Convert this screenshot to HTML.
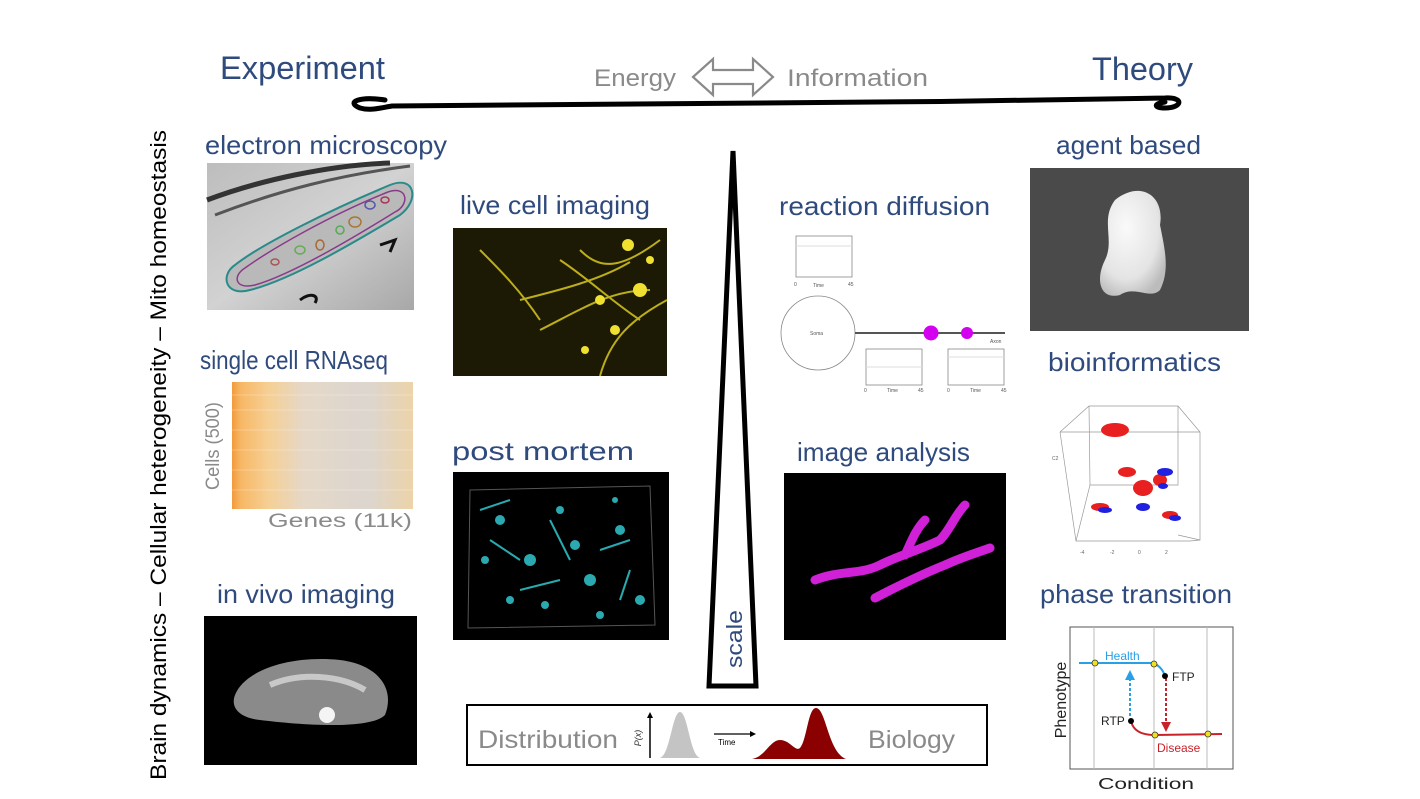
<!DOCTYPE html>
<html><head><meta charset="utf-8"><style>
html,body{margin:0;padding:0;background:#fff;}
body{width:1420px;height:799px;overflow:hidden;position:relative;font-family:"Liberation Sans","DejaVu Sans",sans-serif;}
</style></head><body>
<svg width="1420" height="799" style="position:absolute;left:0;top:0" xmlns="http://www.w3.org/2000/svg" font-family="Liberation Sans, DejaVu Sans, sans-serif">
<defs>
<radialGradient id="blob" cx="40%" cy="35%" r="70%"><stop offset="0" stop-color="#fafafa"/><stop offset="0.7" stop-color="#e4e4e4"/><stop offset="1" stop-color="#bcbcbc"/></radialGradient>
<linearGradient id="heat" x1="0" x2="1" y1="0" y2="0"><stop offset="0" stop-color="#f39a3c"/><stop offset="0.05" stop-color="#f7b866"/><stop offset="0.2" stop-color="#f6cf94"/><stop offset="0.4" stop-color="#e5d8c8"/><stop offset="0.75" stop-color="#dcd6cf"/><stop offset="1" stop-color="#ecd3a9"/></linearGradient>
<linearGradient id="em" x1="0" x2="1" y1="0" y2="1"><stop offset="0" stop-color="#bdbdbd"/><stop offset="0.5" stop-color="#d2d2d2"/><stop offset="1" stop-color="#a8a8a8"/></linearGradient>
</defs>
<!-- swoosh -->
<path d="M385,100 C360,96 345,102 360,108 C370,111 380,108 392,106 C600,105 900,103 1165,98 C1185,97 1182,108 1165,108 C1155,108 1152,104 1165,102" fill="none" stroke="#000" stroke-width="5" stroke-linecap="round"/>
<!-- double arrow -->
<path d="M693,77 L713,59 L713,70 L753,70 L753,59 L773,77 L753,95 L753,84 L713,84 L713,95 Z" fill="none" stroke="#8a8a8a" stroke-width="2.2"/>
<g fill="#8a8a8a" font-size="24" lengthAdjust="spacingAndGlyphs">
<text x="594" y="86" textLength="82" lengthAdjust="spacingAndGlyphs">Energy</text>
<text x="787" y="86" textLength="141" lengthAdjust="spacingAndGlyphs">Information</text>
</g>
<!-- vertical label -->
<text transform="translate(166,455) rotate(-90)" text-anchor="middle" font-size="22" fill="#000" textLength="650" lengthAdjust="spacingAndGlyphs">Brain dynamics – Cellular heterogeneity – Mito homeostasis</text>
<!-- titles -->
<g fill="#2f4a7c" font-size="26">
<text x="220" y="79" font-size="32" textLength="165" lengthAdjust="spacingAndGlyphs">Experiment</text>
<text x="1092" y="80" font-size="32" textLength="101" lengthAdjust="spacingAndGlyphs">Theory</text>
<text x="205" y="154" textLength="242" lengthAdjust="spacingAndGlyphs">electron microscopy</text>
<text x="200" y="369" textLength="188" lengthAdjust="spacingAndGlyphs">single cell RNAseq</text>
<text x="217" y="603" textLength="178" lengthAdjust="spacingAndGlyphs">in vivo imaging</text>
<text x="460" y="214" textLength="190" lengthAdjust="spacingAndGlyphs">live cell imaging</text>
<text x="452" y="460" textLength="182" lengthAdjust="spacingAndGlyphs">post mortem</text>
<text x="779" y="215" textLength="211" lengthAdjust="spacingAndGlyphs">reaction diffusion</text>
<text x="797" y="461" textLength="173" lengthAdjust="spacingAndGlyphs">image analysis</text>
<text x="1056" y="154" textLength="145" lengthAdjust="spacingAndGlyphs">agent based</text>
<text x="1048" y="371" textLength="173" lengthAdjust="spacingAndGlyphs">bioinformatics</text>
<text x="1040" y="603" textLength="192" lengthAdjust="spacingAndGlyphs">phase transition</text>
</g>
<!-- EM image -->
<rect x="207" y="163" width="207" height="147" fill="url(#em)"/>
<path d="M207,200 C260,180 330,165 390,163" stroke="#333" stroke-width="5" fill="none"/>
<path d="M215,215 C280,190 340,175 410,166" stroke="#555" stroke-width="3" fill="none"/>
<path d="M235,265 C260,245 330,210 390,185 C415,175 420,200 400,215 C350,245 290,280 250,290 C225,297 220,275 235,265Z" fill="#b9b9b9" stroke="#2a8a8a" stroke-width="2"/>
<path d="M245,268 C270,250 330,215 388,192 C408,185 410,205 395,212 C350,240 290,275 255,285 C235,290 232,276 245,268Z" fill="none" stroke="#8a3a8a" stroke-width="1.5"/>
<g fill="none" stroke-width="1.5"><ellipse cx="300" cy="250" rx="5" ry="4" stroke="#6a5"/><ellipse cx="320" cy="245" rx="4" ry="5" stroke="#a63"/><ellipse cx="355" cy="222" rx="6" ry="5" stroke="#a73"/><ellipse cx="370" cy="205" rx="5" ry="4" stroke="#55a"/><ellipse cx="275" cy="262" rx="4" ry="3" stroke="#a55"/><ellipse cx="340" cy="230" rx="4" ry="4" stroke="#5a5"/><ellipse cx="385" cy="200" rx="4" ry="3" stroke="#a35"/></g>
<path d="M380,245 l15,-5 l-5,12 M300,300 c10,-8 20,-5 15,3" stroke="#111" stroke-width="3" fill="none"/>
<!-- heatmap -->
<rect x="232" y="382" width="181" height="127" fill="url(#heat)"/>
<g stroke="#fff" stroke-opacity="0.25" stroke-width="1"><line x1="232" y1="395" x2="413" y2="395"/><line x1="232" y1="410" x2="413" y2="410"/><line x1="232" y1="430" x2="413" y2="430"/><line x1="232" y1="450" x2="413" y2="450"/><line x1="232" y1="470" x2="413" y2="470"/><line x1="232" y1="490" x2="413" y2="490"/></g>
<text transform="translate(219,446) rotate(-90)" text-anchor="middle" font-size="19" fill="#8a8a8a" textLength="88" lengthAdjust="spacingAndGlyphs">Cells (500)</text>
<text x="268" y="527" font-size="19" fill="#8a8a8a" textLength="144" lengthAdjust="spacingAndGlyphs">Genes (11k)</text>
<!-- in vivo -->
<rect x="204" y="616" width="213" height="149" fill="#000"/>
<path d="M235,695 C245,670 290,655 340,660 C380,665 395,690 385,715 C370,730 300,725 260,720 C240,718 230,708 235,695Z" fill="#8a8a8a"/>
<path d="M270,685 C300,672 340,675 365,690" stroke="#c8c8c8" stroke-width="6" fill="none"/>
<circle cx="327" cy="715" r="8" fill="#f4f4f4"/>
<!-- live cell -->
<rect x="453" y="228" width="214" height="148" fill="#1c1a04"/>
<g stroke="#d8c820" fill="none" stroke-width="2" opacity="0.85">
<path d="M560,260 C590,280 610,300 640,320"/><path d="M580,250 C600,270 620,270 660,240"/><path d="M540,330 C580,310 610,290 650,290"/><path d="M600,376 C610,340 630,320 667,300"/><path d="M520,300 C560,290 600,280 630,262"/><path d="M480,250 C500,270 520,290 540,320"/></g>
<g fill="#f0e030"><circle cx="628" cy="245" r="6"/><circle cx="600" cy="300" r="5"/><circle cx="640" cy="290" r="7"/><circle cx="615" cy="330" r="5"/><circle cx="585" cy="350" r="4"/><circle cx="650" cy="260" r="4"/></g>
<!-- post mortem -->
<rect x="453" y="472" width="216" height="168" fill="#000"/>
<path d="M470,490 L650,486 L655,625 L468,628 Z" fill="none" stroke="#555" stroke-width="1"/>
<g fill="#2aaab0"><circle cx="500" cy="520" r="5"/><circle cx="530" cy="560" r="6"/><circle cx="560" cy="510" r="4"/><circle cx="590" cy="580" r="6"/><circle cx="620" cy="530" r="5"/><circle cx="510" cy="600" r="4"/><circle cx="640" cy="600" r="5"/><circle cx="575" cy="545" r="5"/><circle cx="545" cy="605" r="4"/><circle cx="485" cy="560" r="4"/><circle cx="615" cy="500" r="3"/><circle cx="600" cy="615" r="4"/></g>
<g stroke="#2aaab0" stroke-width="2" fill="none"><path d="M490,540 l30,20 M550,520 l20,40 M600,550 l30,-10 M520,590 l40,-10 M630,570 l-10,30 M480,510 l30,-10"/></g>
<!-- scale triangle -->
<path d="M733,151 L756,686 L709,686 Z" fill="#fff" stroke="#000" stroke-width="5" stroke-linejoin="miter"/>
<text transform="translate(742,639) rotate(-90)" text-anchor="middle" font-size="22" fill="#2f4a7c" textLength="58" lengthAdjust="spacingAndGlyphs">scale</text>
<!-- reaction diffusion -->
<g font-size="5" fill="#555" stroke="none">
<rect x="796" y="236" width="56" height="41" fill="none" stroke="#888" stroke-width="0.8"/><line x1="796" y1="246" x2="852" y2="246" stroke="#ddd"/>
<text x="794" y="286">0</text><text x="813" y="287">Time</text><text x="848" y="286">45</text>
<circle cx="818" cy="333" r="37" fill="none" stroke="#888" stroke-width="0.8"/><text x="810" y="335">Soma</text>
<line x1="855" y1="333" x2="1005" y2="333" stroke="#555" stroke-width="2"/>
<circle cx="931" cy="333" r="7.5" fill="#d400f0"/><circle cx="967" cy="333" r="6" fill="#d400f0"/>
<text x="990" y="343">Axon</text>
<rect x="866" y="349" width="56" height="36" fill="none" stroke="#888" stroke-width="0.8"/><line x1="866" y1="367" x2="922" y2="367" stroke="#ddd"/>
<text x="864" y="392">0</text><text x="887" y="392">Time</text><text x="918" y="392">45</text>
<rect x="948" y="349" width="56" height="36" fill="none" stroke="#888" stroke-width="0.8"/><line x1="948" y1="357" x2="1004" y2="357" stroke="#ddd"/>
<text x="947" y="392">0</text><text x="970" y="392">Time</text><text x="1001" y="392">45</text>
</g>
<!-- image analysis -->
<rect x="784" y="473" width="222" height="167" fill="#000"/>
<path d="M815,580 C840,570 860,575 880,565 C900,555 920,550 940,540 C950,530 955,515 965,505 M875,598 C900,585 920,575 945,565 C960,558 970,555 990,548 M905,555 C910,545 915,530 925,520" stroke="#d020d8" stroke-width="9" fill="none" stroke-linecap="round"/>
<!-- agent based -->
<rect x="1030" y="168" width="219" height="163" fill="#4a4a4a"/>
<path d="M1115,200 C1140,180 1165,195 1160,225 C1165,250 1170,270 1160,290 C1150,300 1135,285 1120,295 C1100,300 1095,280 1105,260 C1115,240 1100,220 1115,200Z" fill="url(#blob)"/>
<!-- bioinformatics -->
<g stroke="#999" stroke-width="0.7" fill="none">
<path d="M1060,432 L1089,406 L1178,406 L1200,432 L1200,540 L1178,535 M1060,432 L1200,432 M1060,432 L1076,541 L1190,541 L1200,540 M1089,406 L1090,485 L1076,541 M1090,485 L1178,485 L1178,406"/></g>
<g font-size="5" fill="#666"><text x="1052" y="460">C2</text><text x="1080" y="554">-4</text><text x="1110" y="554">-2</text><text x="1138" y="554">0</text><text x="1165" y="554">2</text></g>
<g fill="#e82020"><ellipse cx="1115" cy="430" rx="14" ry="7"/><ellipse cx="1127" cy="472" rx="9" ry="5"/><ellipse cx="1143" cy="488" rx="10" ry="8"/><ellipse cx="1100" cy="507" rx="9" ry="4"/><ellipse cx="1170" cy="515" rx="8" ry="4"/><ellipse cx="1160" cy="480" rx="7" ry="6"/></g>
<g fill="#2020e0"><ellipse cx="1165" cy="472" rx="8" ry="4"/><ellipse cx="1143" cy="507" rx="7" ry="4"/><ellipse cx="1105" cy="510" rx="7" ry="3"/><ellipse cx="1175" cy="518" rx="6" ry="3"/><ellipse cx="1163" cy="486" rx="5" ry="3"/></g>
<!-- phase transition -->
<rect x="1070" y="627" width="163" height="142" fill="none" stroke="#555" stroke-width="1"/>
<g stroke="#bbb" stroke-width="1"><line x1="1094" y1="627" x2="1094" y2="769"/><line x1="1154" y1="627" x2="1154" y2="769"/><line x1="1207" y1="627" x2="1207" y2="769"/></g>
<path d="M1079,663 L1150,663 C1158,663 1163,670 1165,676" stroke="#27a0e8" stroke-width="2" fill="none"/>
<path d="M1131,721 C1133,730 1140,735 1155,735 L1222,734" stroke="#c8232a" stroke-width="2" fill="none"/>
<line x1="1130" y1="716" x2="1130" y2="676" stroke="#27a0e8" stroke-width="2" stroke-dasharray="3,2"/><path d="M1125,680 L1130,670 L1135,680Z" fill="#27a0e8"/>
<line x1="1166" y1="678" x2="1166" y2="726" stroke="#c8232a" stroke-width="2" stroke-dasharray="3,2"/><path d="M1161,722 L1166,732 L1171,722Z" fill="#c8232a"/>
<g fill="#f0e020" stroke="#333" stroke-width="0.8"><circle cx="1095" cy="663" r="3"/><circle cx="1154" cy="664" r="3"/><circle cx="1155" cy="735" r="3"/><circle cx="1208" cy="734" r="3"/></g>
<circle cx="1165" cy="676" r="3" fill="#000"/><circle cx="1131" cy="721" r="3" fill="#000"/>
<text x="1105" y="660" font-size="12" fill="#27a0e8">Health</text>
<text x="1172" y="681" font-size="12" fill="#222">FTP</text>
<text x="1101" y="725" font-size="12" fill="#222">RTP</text>
<text x="1157" y="752" font-size="12" fill="#c8232a">Disease</text>
<text transform="translate(1066,700) rotate(-90)" text-anchor="middle" font-size="16" fill="#222">Phenotype</text>
<text x="1098" y="789" font-size="16" fill="#222" textLength="96" lengthAdjust="spacingAndGlyphs">Condition</text>
<!-- bottom box -->
<rect x="467" y="705" width="520" height="60" fill="#fff" stroke="#000" stroke-width="2"/>
<text x="478" y="748" font-size="25" fill="#8a8a8a" textLength="140" lengthAdjust="spacingAndGlyphs">Distribution</text>
<text x="868" y="748" font-size="25" fill="#8a8a8a" textLength="87" lengthAdjust="spacingAndGlyphs">Biology</text>
<line x1="650" y1="758" x2="650" y2="714" stroke="#000" stroke-width="1.5"/><path d="M647,718 L650,712 L653,718Z" fill="#000"/>
<text transform="translate(641,738) rotate(-90)" text-anchor="middle" font-size="9" font-style="italic" fill="#333">P(x)</text>
<path d="M659,758 C670,758 672,712 680,712 C688,712 690,758 701,758Z" fill="#c4c4c4"/>
<line x1="714" y1="734" x2="754" y2="734" stroke="#000" stroke-width="1.2"/><path d="M750,731 L756,734 L750,737Z" fill="#000"/>
<text x="718" y="745" font-size="8" fill="#000">Time</text>
<path d="M752,759 C765,757 770,740 780,740 C790,740 795,752 800,748 C807,740 808,708 816,708 C826,708 828,752 846,759Z" fill="#8b0000"/>
</svg>
</body></html>
